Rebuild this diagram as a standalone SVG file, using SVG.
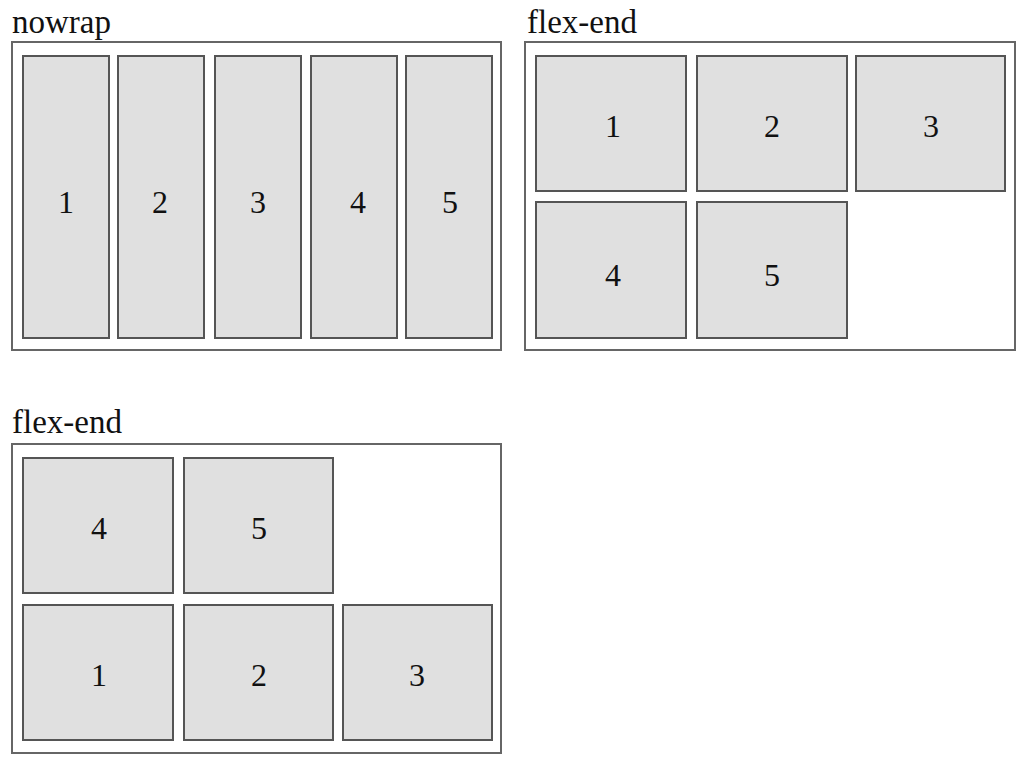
<svg xmlns="http://www.w3.org/2000/svg" width="1023" height="764" viewBox="0 0 1023 764">
<style>
.lbl{font-family:"Liberation Serif","Times New Roman",serif;font-size:33px;fill:#111}
.num{font-family:"Liberation Serif","Times New Roman",serif;font-size:32px;fill:#111;text-anchor:middle}
.box{fill:#fff;stroke:#666;stroke-width:2}
.item{fill:#e0e0e0;stroke:#555;stroke-width:2}
</style>
<rect width="1023" height="764" fill="#fff"/>
<g id="panel-nowrap">
<text class="lbl" x="12" y="33">nowrap</text>
<rect class="box" x="12" y="42" width="489" height="308"/>
<g id="n1"><rect class="item" x="23" y="56" width="86" height="282"/><text class="num" x="66" y="213">1</text></g>
<g id="n2"><rect class="item" x="118" y="56" width="86" height="282"/><text class="num" x="160" y="213">2</text></g>
<g id="n3"><rect class="item" x="215" y="56" width="86" height="282"/><text class="num" x="258" y="213">3</text></g>
<g id="n4"><rect class="item" x="311" y="56" width="86" height="282"/><text class="num" x="358" y="213">4</text></g>
<g id="n5"><rect class="item" x="406" y="56" width="86" height="282"/><text class="num" x="450" y="213">5</text></g>
</g>
<g id="panel-flexend-1">
<text class="lbl" x="527" y="33">flex-end</text>
<rect class="box" x="525" y="42" width="490" height="308"/>
<g id="a1"><rect class="item" x="536" y="56" width="150" height="135"/><text class="num" x="613" y="137">1</text></g>
<g id="a2"><rect class="item" x="697" y="56" width="150" height="135"/><text class="num" x="772" y="137">2</text></g>
<g id="a3"><rect class="item" x="856" y="56" width="149" height="135"/><text class="num" x="931" y="137">3</text></g>
<g id="a4"><rect class="item" x="536" y="202" width="150" height="136"/><text class="num" x="613" y="286">4</text></g>
<g id="a5"><rect class="item" x="697" y="202" width="150" height="136"/><text class="num" x="772" y="286">5</text></g>
</g>
<g id="panel-flexend-2">
<text class="lbl" x="12" y="433">flex-end</text>
<rect class="box" x="12" y="444" width="489" height="309"/>
<g id="b4"><rect class="item" x="23" y="458" width="150" height="135"/><text class="num" x="99" y="539">4</text></g>
<g id="b5"><rect class="item" x="184" y="458" width="149" height="135"/><text class="num" x="259" y="539">5</text></g>
<g id="b1"><rect class="item" x="23" y="605" width="150" height="135"/><text class="num" x="99" y="686">1</text></g>
<g id="b2"><rect class="item" x="184" y="605" width="149" height="135"/><text class="num" x="259" y="686">2</text></g>
<g id="b3"><rect class="item" x="343" y="605" width="149" height="135"/><text class="num" x="417" y="686">3</text></g>
</g>
<g id="connectors"/>
</svg>
